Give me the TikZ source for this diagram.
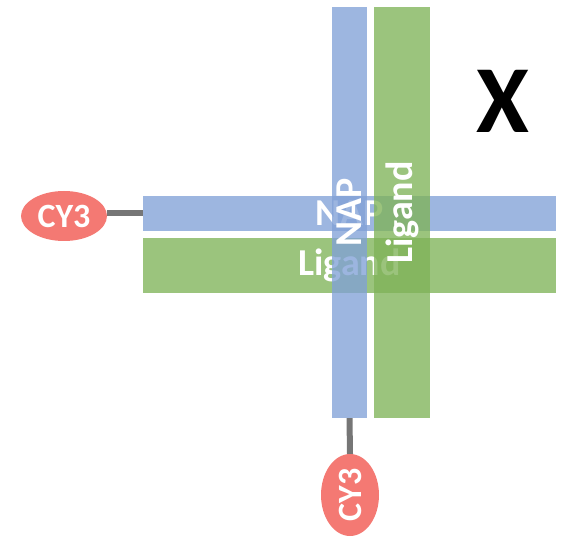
\documentclass[tikz,border=0pt]{standalone}
\usepackage{fontspec}
\setmainfont{Carlito}
\usetikzlibrary{shapes.geometric}
\definecolor{barblue}{RGB}{157,182,224}
\definecolor{bargreen}{RGB}{155,196,125}
\definecolor{vblue}{RGB}{129,161,215}
\definecolor{vgreen}{RGB}{127,179,88}
\definecolor{dyered}{RGB}{244,121,115}
\definecolor{linkgray}{RGB}{118,118,118}
\tikzset{
  bar/.style={draw=none, inner sep=0pt, text=white, font=\bfseries\fontsize{38}{38}\selectfont},
  hbar/.style={bar, minimum width=413pt},
  vbar/.style={bar, rotate=90, minimum width=411pt, fill opacity=0.78, text opacity=1},
  dye/.style={ellipse, fill=dyered, draw=none, inner sep=0pt, text=white, font=\bfseries\fontsize{34}{34}\selectfont},
  link/.style={draw=linkgray, line width=6pt}
}
\begin{document}
\begin{tikzpicture}[x=1pt,y=-1pt]
\useasboundingbox (0,0) rectangle (565,540);
% horizontal bars
\node[hbar, fill=barblue, minimum height=35pt] (hnap) at (349.5,213.5) {NAP};
\node[hbar, fill=bargreen, minimum height=55pt] (hlig) at (349.5,265.5) {Ligand};
% vertical bars
\node[vbar, fill=vblue, minimum height=35pt] (vnap) at (349.5,212.5) {NAP};
\node[vbar, fill=vgreen, minimum height=56pt] (vlig) at (402,212.5) {Ligand};
% dyes
\node[dye, minimum width=86pt, minimum height=50pt] (cyl) at (64,216) {CY3};
\node[dye, rotate=90, minimum width=82pt, minimum height=58pt] (cyb) at (350,495) {CY3};
% links
\draw[link] (cyl.east |- hnap.west) -- (hnap.west);
\draw[link] (vnap.west) -- (cyb.east);
% label
\node[font=\bfseries\fontsize{96}{96}\selectfont, inner sep=0pt] (xlabel) at (503,101) {X};
\end{tikzpicture}
\end{document}
